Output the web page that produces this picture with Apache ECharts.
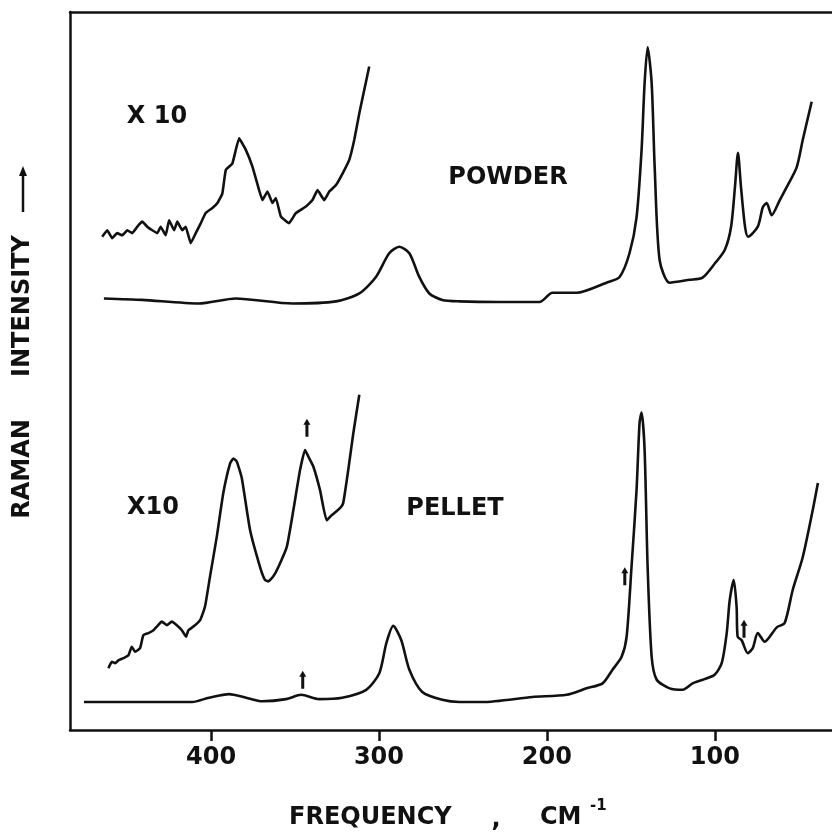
<!DOCTYPE html>
<html><head><meta charset="utf-8">
<script src="https://cdn.jsdelivr.net/npm/echarts@6/dist/echarts.min.js"></script>
<style>html,body{margin:0;padding:0;background:#fff}#c{width:832px;height:836px}</style>
</head><body><div id="c"></div>
<script>
// ---- data (frequency in cm^-1, intensity in arbitrary units) ----
const tickValues = [100, 200, 300, 400];

const powderFreq = [463.8,441,407.2,385.3,351.5,325.6,311.7,301.8,293.9,287.9,281.9,276,270,262.3,252.1,228.3,204.4,196.7,182.3,164.5,156.7,150.8,146.6,143.6,141.8,140,137.6,135.8,132.9,126.9,115,107.3,99.9,94,90.3,88,86.2,84.4,82,80.2,74.4,71.4,69.1,66.1,61.3,57.2,51.2,47.6,42.3];
const powderInt  = [60.1,59.9,59.4,60.1,59.4,59.7,60.8,63.1,66.4,67.3,66.4,63.1,60.8,59.9,59.7,59.6,59.6,60.9,60.9,62.3,63.1,66.4,71.4,80.8,90.1,95.1,90.1,78.4,65.5,62.3,62.7,63.0,65.0,66.9,70.1,75.6,80.4,75.6,70.1,68.7,70.1,72.8,73.4,71.7,73.8,75.6,78.4,82.2,87.5];

const powderX10Freq = [464.8,461.8,458.9,455.9,452.9,449.9,446.9,443.9,441,438,435,432,430,427,425,422,420.1,417.1,415.1,412.1,409.1,406.1,403.2,399.2,396.2,393.3,391.2,387.3,383.3,379.3,375.4,371.4,369.4,366.4,363.4,361.4,358.4,353.5,349.5,343.5,339.6,336.6,332.6,329.6,325.6,321.7,317.7,314.7,311.7,308.8,305.8];
const powderX10Int  = [68.7,69.6,68.5,69.2,68.9,69.6,69.2,70.1,70.8,70.1,69.6,69.2,70.1,68.9,71.0,69.6,70.8,69.6,70.1,67.8,69.2,70.6,72.0,72.7,73.4,74.7,78.0,78.9,82.4,80.8,78.5,75.2,73.8,75.0,73.4,74.1,71.5,70.6,72.0,72.9,73.8,75.2,73.8,75.0,75.9,77.5,79.4,82.2,85.9,89.1,92.4];

const pelletFreq = [475.7,411.3,401.2,389.3,379.1,369.6,355.3,346.3,335.6,321.9,307.6,299.8,295.6,291.5,286.7,281.9,274.2,262.3,252.1,238.4,208.6,188.3,176.4,166.8,160.9,155.5,152.5,149.6,146.6,144.8,143.6,141.8,140,137.6,134.6,126.9,119.1,113.2,107.2,100.1,95.9,92.9,91.1,88.7,87,86.4,84,80.4,77.4,74.4,70.3,63.1,58.4,53.6,47.6,41.7,38.6];
const pelletInt  = [3.9,3.9,4.5,5.0,4.5,4.0,4.3,4.9,4.3,4.5,5.6,7.9,12.1,14.5,12.5,8.4,5.3,4.2,3.9,3.9,4.6,4.9,5.8,6.5,8.4,10.2,13.0,22.7,33.4,42.8,44.2,39.0,22.7,10.2,7.0,5.8,5.6,6.5,7.0,7.7,9.3,13.5,18.1,20.9,17.1,13.0,12.5,10.7,11.4,13.5,12.3,14.3,14.9,19.5,24.1,30.6,34.4];

const pelletX10Freq = [461.1,459.1,457.1,455.2,452.2,449.2,447.2,445.2,442.3,440.3,437.3,434.3,432.3,429.3,426.4,423.4,420.4,417.4,414.9,413.5,410.5,406.5,403.6,400.6,396.6,392.7,388.7,386.7,384.7,381.7,376.8,370.8,367.9,365.9,362.9,359.9,354.9,351,347,344,342.1,339.1,335.1,331.1,328.2,323.2,321.3,318.3,315.3,311.7];
const pelletX10Int  = [8.6,9.5,9.3,9.7,10.0,10.4,11.6,10.9,11.4,13.2,13.5,13.9,14.4,15.1,14.6,15.1,14.6,13.9,13.0,13.9,14.4,15.3,17.2,21.4,26.9,33.0,37.1,37.8,37.4,35.1,27.9,22.7,20.9,20.7,21.4,22.7,25.5,30.6,36.2,39.0,38.1,36.7,33.4,29.2,29.9,30.9,31.6,36.2,41.3,46.7];

const arrowFreq = [342.9, 345.4, 153.6, 82.6];
const arrowInt  = [42.1, 7.0, 21.4, 14.1];

const zip = (a, b) => a.map((v, i) => [v, b[i]]);

const FONT = 'DejaVu Sans';
const INK = '#111';
const X_MIN = 30.2, X_MAX = 484;
const lineStyle = { color: INK, width: 2.6 };
const arrowPath = 'path://M0,-9 L3.5,-3 L1.5,-3 L1.5,9 L-1.5,9 L-1.5,-3 L-3.5,-3 Z';

const chart = echarts.init(document.getElementById('c'), null, { renderer: 'canvas' });
chart.setOption({
  animation: false,
  backgroundColor: '#fff',
  grid: { left: 70, top: 12, right: 0, bottom: 106, show: false },
  xAxis: [
    {
      type: 'value', inverse: true, min: X_MIN, max: X_MAX, position: 'bottom',
      splitLine: { show: false },
      axisLine: { show: true, onZero: false, lineStyle: { color: INK, width: 2.5 } },
      axisTick: { show: true, length: 11, customValues: tickValues, lineStyle: { color: INK, width: 2.5 } },
      axisLabel: { customValues: tickValues, margin: 16, fontFamily: FONT, fontWeight: 'bold', fontSize: 24, color: INK }
    },
    {
      type: 'value', inverse: true, min: X_MIN, max: X_MAX, position: 'top',
      splitLine: { show: false }, axisTick: { show: false }, axisLabel: { show: false },
      axisLine: { show: true, onZero: false, lineStyle: { color: INK, width: 2.5 } }
    }
  ],
  yAxis: {
    type: 'value', min: 0, max: 100,
    splitLine: { show: false }, axisTick: { show: false }, axisLabel: { show: false },
    axisLine: { show: true, lineStyle: { color: INK, width: 2.5 } }
  },
  series: [
    { name: 'powder', type: 'line', data: zip(powderFreq, powderInt), showSymbol: false, smooth: 0.25, lineStyle },
    { name: 'powder x10', type: 'line', data: zip(powderX10Freq, powderX10Int), showSymbol: false, smooth: 0.1, lineStyle },
    { name: 'pellet', type: 'line', data: zip(pelletFreq, pelletInt), showSymbol: false, smooth: 0.25, lineStyle },
    { name: 'pellet x10', type: 'line', data: zip(pelletX10Freq, pelletX10Int), showSymbol: false, smooth: 0.15, lineStyle },
    { name: 'arrows', type: 'scatter', data: zip(arrowFreq, arrowInt), symbol: arrowPath, symbolSize: [7, 18], itemStyle: { color: INK, opacity: 1 } }
  ],
  graphic: [
    { type: 'text', x: 157, y: 117, style: { text: 'X 10', font: 'bold 24px "DejaVu Sans"', fill: INK, align: 'center', verticalAlign: 'middle' } },
    { type: 'text', x: 508, y: 178, style: { text: 'POWDER', font: 'bold 24px "DejaVu Sans"', fill: INK, align: 'center', verticalAlign: 'middle' } },
    { type: 'text', x: 153, y: 508, style: { text: 'X10', font: 'bold 24px "DejaVu Sans"', fill: INK, align: 'center', verticalAlign: 'middle' } },
    { type: 'text', x: 455, y: 509, style: { text: 'PELLET', font: 'bold 24px "DejaVu Sans"', fill: INK, align: 'center', verticalAlign: 'middle' } },
    { type: 'text', x: 289, y: 818, style: { text: 'FREQUENCY', font: 'bold 24px "DejaVu Sans"', fill: INK, align: 'left', verticalAlign: 'middle' } },
    { type: 'text', x: 496, y: 820, style: { text: ',', font: 'bold 24px "DejaVu Sans"', fill: INK, align: 'center', verticalAlign: 'middle' } },
    { type: 'text', x: 540, y: 818, style: { text: 'CM', font: 'bold 24px "DejaVu Sans"', fill: INK, align: 'left', verticalAlign: 'middle' } },
    { type: 'text', x: 590, y: 806, style: { text: '-1', font: 'bold 15px "DejaVu Sans"', fill: INK, align: 'left', verticalAlign: 'middle' } },
    { type: 'text', x: 23, y: 469, rotation: Math.PI / 2, style: { text: 'RAMAN', font: 'bold 24px "DejaVu Sans"', fill: INK, align: 'center', verticalAlign: 'middle' } },
    { type: 'text', x: 23, y: 306, rotation: Math.PI / 2, style: { text: 'INTENSITY', font: 'bold 24px "DejaVu Sans"', fill: INK, align: 'center', verticalAlign: 'middle' } },
    { type: 'line', shape: { x1: 23, y1: 212, x2: 23, y2: 174 }, style: { stroke: INK, lineWidth: 2.5 } },
    { type: 'polygon', shape: { points: [[23, 166], [19, 176], [27, 176]] }, style: { fill: INK } }
  ]
});
</script>
</body></html>
